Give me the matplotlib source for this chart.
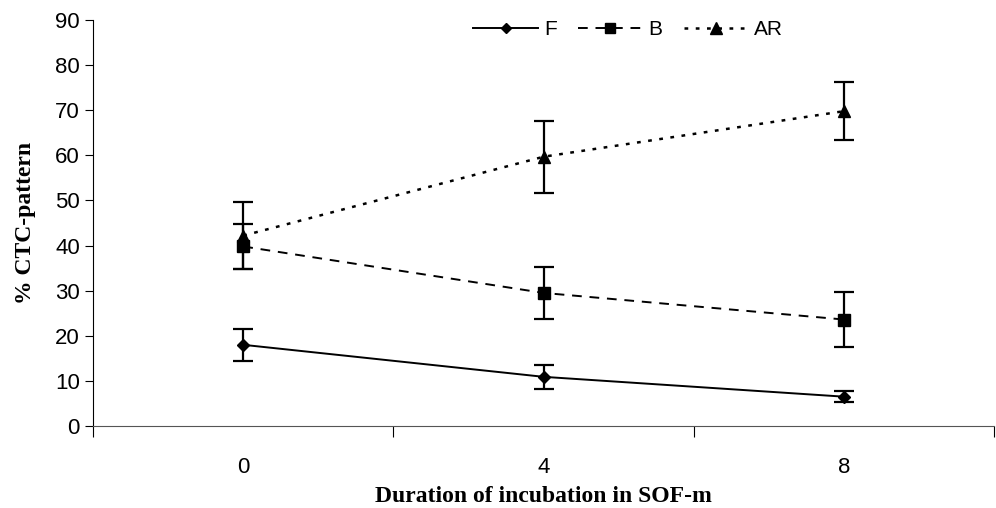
import numpy as np
import matplotlib.pyplot as plt
from matplotlib.lines import Line2D

# incubation durations (categories) and % CTC-pattern values
durations = ["0", "4", "8"]
f_vals = [18.0, 10.9, 6.5]
f_err = [3.5, 2.7, 1.2]
b_vals = [39.8, 29.5, 23.6]
b_err = [4.9, 5.8, 6.0]
ar_vals = [42.2, 59.7, 69.8]
ar_err = [7.4, 8.0, 6.4]


def main():
    plt.rcParams["font.family"] = ["Liberation Sans", "DejaVu Sans"]
    fig = plt.figure(figsize=(9.96, 5.08), dpi=100)
    ax = fig.add_axes([0.0934, 0.1614, 0.905, 0.7992])
    x = np.arange(len(durations))

    styles = [
        ("F", f_vals, f_err, "-", "D", 6, 1.4),
        ("B", b_vals, b_err, (0, (5, 4)), "s", 8, 1.4),
        ("AR", ar_vals, ar_err, (0, (1.5, 3)), "^", 9, 1.8),
    ]
    handles = []
    for name, vals, err, ls, mk, ms, lw in styles:
        ax.errorbar(x, vals, yerr=err, color="black", linestyle=ls, marker=mk,
                    markersize=ms, linewidth=lw, capsize=7, elinewidth=1.6,
                    capthick=1.6)
        handles.append(Line2D([], [], color="black", linestyle=ls, marker=mk,
                              markersize=ms - 1, linewidth=lw, label=name))

    ax.set_xlim(-0.5, 2.5)
    ax.set_ylim(0, 90)
    ax.set_yticks(range(0, 91, 10))
    ax.set_xticks([-0.5, 0.5, 1.5, 2.5])
    ax.set_xticklabels([])
    ax.set_xticks(x, minor=True)
    ax.set_xticklabels(durations, minor=True)
    ax.tick_params(axis="x", which="minor", length=0, pad=22, labelsize=16)
    ax.tick_params(axis="x", which="major", length=8, direction="out")
    ax.tick_params(axis="y", length=6, direction="out", labelsize=16)

    ax.spines["top"].set_visible(False)
    ax.spines["right"].set_visible(False)
    ax.spines["bottom"].set_color("#555555")

    ax.set_xlabel("Duration of incubation in SOF-m", fontfamily="Liberation Serif",
                  fontweight="bold", fontsize=17, labelpad=6)
    ax.set_ylabel("% CTC-pattern", fontfamily="Liberation Serif",
                  fontweight="bold", fontsize=17, labelpad=14)

    ax.legend(handles=handles, loc="upper center", bbox_to_anchor=(0.594, 1.045),
              ncol=3, frameon=False, fontsize=15, handlelength=3.1,
              columnspacing=1.0, handletextpad=0.3)

    fig.savefig("out.png", dpi=100)


if __name__ == "__main__":
    main()
